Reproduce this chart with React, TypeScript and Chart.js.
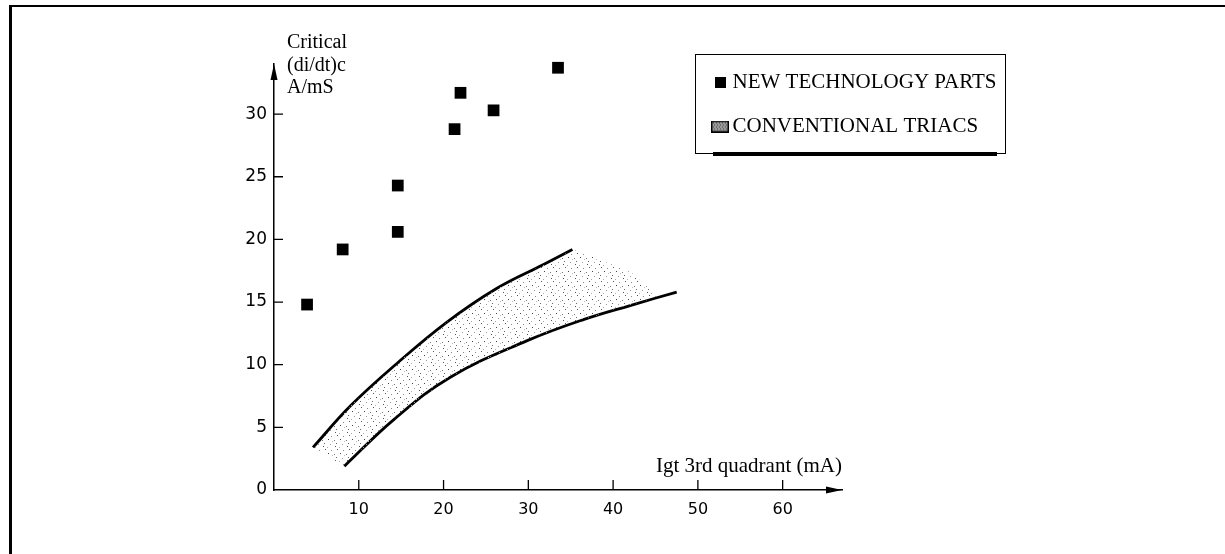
import React, { useEffect, useRef } from 'react';
import { Chart, registerables } from 'chart.js';

Chart.register(...registerables);

// ---- data ----
const seriesNames = ['NEW TECHNOLOGY PARTS', 'CONVENTIONAL TRIACS'];

const newTechX = [3.9, 8.1, 14.6, 14.6, 21.3, 22.0, 25.9, 33.5];
const newTechY = [14.8, 19.2, 20.6, 24.3, 28.8, 31.7, 30.3, 33.7];

// upper bound of the conventional-triac band
const upperX = [4.6, 9.0, 14.5, 20.4, 26.3, 31.8, 35.2];
const upperY = [3.4, 6.7, 10.1, 13.4, 16.1, 18.0, 19.2];

// lower bound of the conventional-triac band
const lowerX = [8.3, 14.1, 20.8, 29.8, 36.5, 42.4, 47.5];
const lowerY = [1.9, 5.6, 9.0, 11.9, 13.6, 14.8, 15.8];

// right-hand (unstroked) edge of the shaded band
const bandEdgeX = [38.4, 42.3, 45.3];
const bandEdgeY = [18.4, 17.3, 15.4];

const xTickValues = [10, 20, 30, 40, 50, 60];
const yTickValues = [0, 5, 10, 15, 20, 25, 30];

const yTitleLines = ['Critical', '(di/dt)c', 'A/mS'];
const xTitle = 'Igt 3rd quadrant (mA)';

const X_MAX = 67;
const Y_MAX = 34;

// ---- helpers ----
const pts = (xs: number[], ys: number[]) => xs.map((x, i) => ({ x, y: ys[i] }));

const STIPPLE_DOTS: [number, number, string][] = [
  [1, 1, '#555'], [7, 2, '#888'], [4, 5, '#444'], [10, 6, '#777'],
  [0, 9, '#666'], [6, 10, '#999'], [11, 12, '#555'], [3, 13, '#aaa'],
  [8, 7, '#bbb'],
];

function makeStipple(): CanvasPattern | string {
  const c = document.createElement('canvas');
  c.width = 12;
  c.height = 14;
  const g = c.getContext('2d');
  if (!g) return '#eeeeee';
  for (const [x, y, col] of STIPPLE_DOTS) {
    g.fillStyle = col;
    g.fillRect(x, y, 1, 1);
  }
  const p = g.createPattern(c, 'repeat');
  return p || '#eeeeee';
}

function makeSquareIcon(): HTMLCanvasElement {
  const c = document.createElement('canvas');
  c.width = 11;
  c.height = 11;
  const g = c.getContext('2d')!;
  g.fillStyle = '#000';
  g.fillRect(0, 0, 11, 11);
  return c;
}

function makeBandIcon(): HTMLCanvasElement {
  const c = document.createElement('canvas');
  c.width = 18;
  c.height = 12;
  const g = c.getContext('2d')!;
  g.fillStyle = '#9a9a9a';
  g.fillRect(1, 1, 16, 10);
  g.fillStyle = '#444';
  for (let y = 2; y < 10; y += 2) {
    for (let x = 2 + (y % 4 === 0 ? 1 : 0); x < 16; x += 3) g.fillRect(x, y, 1, 1);
  }
  g.strokeStyle = '#000';
  g.lineWidth = 1.5;
  g.strokeRect(0.75, 0.75, 16.5, 10.5);
  return c;
}

const decorPlugin = {
  id: 'decor',
  afterLayout(chart: any) {
    const lg = chart.legend;
    if (!lg) return;
    lg.left = 695;
    lg.top = 49;
    lg.right = 1010;
    lg.bottom = 200;
    lg.width = lg.right - lg.left;
    lg.height = lg.bottom - lg.top;
  },
  afterDraw(chart: any) {
    const ctx: CanvasRenderingContext2D = chart.ctx;
    const xs = chart.scales.x;
    const ys = chart.scales.y;
    const { left, right, top, bottom } = chart.chartArea;
    ctx.save();
    ctx.strokeStyle = '#000';
    ctx.fillStyle = '#000';
    ctx.lineWidth = 1.3;
    // tick marks (inside the plot)
    ctx.beginPath();
    for (const v of xTickValues) {
      const px = xs.getPixelForValue(v);
      ctx.moveTo(px, bottom);
      ctx.lineTo(px, bottom - 10);
    }
    for (const v of yTickValues) {
      if (v === 0) continue;
      const py = ys.getPixelForValue(v);
      ctx.moveTo(left, py);
      ctx.lineTo(left + 9, py);
    }
    ctx.stroke();
    // arrow heads
    ctx.beginPath();
    ctx.moveTo(right, bottom);
    ctx.lineTo(right - 16, bottom - 3.5);
    ctx.lineTo(right - 16, bottom + 3.5);
    ctx.closePath();
    ctx.fill();
    ctx.beginPath();
    ctx.moveTo(left, top);
    ctx.lineTo(left - 3.5, top + 16);
    ctx.lineTo(left + 3.5, top + 16);
    ctx.closePath();
    ctx.fill();
    // axis titles
    ctx.font = '20px "Liberation Serif", "Times New Roman", serif';
    ctx.textAlign = 'left';
    ctx.textBaseline = 'middle';
    yTitleLines.forEach((t, i) => ctx.fillText(t, left + 13, 43 + i * 22.5));
    ctx.font = '21px "Liberation Serif", "Times New Roman", serif';
    ctx.textAlign = 'right';
    ctx.fillText(xTitle, right, bottom - 24);
    // legend frame
    const lg = chart.legend;
    if (lg) {
      const bx = lg.left;
      const by = lg.top + 5;
      ctx.lineWidth = 1;
      ctx.strokeRect(bx + 0.5, by + 0.5, 310, 99);
      ctx.fillRect(bx + 18, by + 98, 284, 4);
    }
    ctx.restore();
  },
};

export default function App() {
  const ref = useRef<HTMLCanvasElement>(null);

  useEffect(() => {
    const canvas = ref.current;
    if (!canvas) return;
    const stipple = makeStipple();
    const icons = [makeSquareIcon(), makeBandIcon()];

    const lowerInside = pts(lowerX, lowerY).filter((p) => p.x <= bandEdgeX[bandEdgeX.length - 1]);
    const bandPolygon = [
      ...pts(upperX, upperY),
      ...pts(bandEdgeX, bandEdgeY),
      ...lowerInside.slice().reverse(),
    ];

    const chart = new Chart(canvas, {
      type: 'line',
      data: {
        datasets: [
          {
            label: seriesNames[0],
            data: pts(newTechX, newTechY),
            showLine: false,
            pointStyle: 'rect',
            pointRadius: 8.3,
            pointBackgroundColor: '#000',
            pointBorderWidth: 0,
            borderColor: '#000',
            backgroundColor: '#000',
            clip: false,
          } as any,
          {
            label: seriesNames[1],
            data: bandPolygon,
            showLine: true,
            borderWidth: 0,
            borderColor: 'rgba(0,0,0,0)',
            backgroundColor: stipple as any,
            fill: 'shape',
            pointRadius: 0,
            tension: 0,
          } as any,
          {
            label: 'upper',
            data: pts(upperX, upperY),
            borderColor: '#000',
            borderWidth: 2.8,
            pointRadius: 0,
            fill: false,
            tension: 0.4,
          } as any,
          {
            label: 'lower',
            data: pts(lowerX, lowerY),
            borderColor: '#000',
            borderWidth: 2.8,
            pointRadius: 0,
            fill: false,
            tension: 0.4,
          } as any,
        ],
      },
      options: {
        responsive: false,
        animation: false,
        events: [],
        layout: { padding: { left: 214, right: 383, top: 64, bottom: 14 } },
        scales: {
          x: {
            type: 'linear',
            min: 0,
            max: X_MAX,
            afterFit: (s: any) => { s.height = 50; },
            afterBuildTicks: (s: any) => { s.ticks = xTickValues.map((v) => ({ value: v })); },
            grid: { display: false, drawTicks: false },
            border: { display: true, color: '#000', width: 1.5 },
            ticks: {
              padding: 10,
              color: '#000',
              maxRotation: 0,
              autoSkip: false,
              font: { family: '"DejaVu Sans", sans-serif', size: 16 },
            },
          },
          y: {
            type: 'linear',
            min: 0,
            max: Y_MAX,
            afterFit: (s: any) => { s.width = 60; },
            afterBuildTicks: (s: any) => { s.ticks = yTickValues.map((v) => ({ value: v })); },
            grid: { display: false, drawTicks: false },
            border: { display: true, color: '#000', width: 1.5 },
            ticks: {
              padding: 7,
              color: '#000',
              autoSkip: false,
              font: { family: '"DejaVu Sans", sans-serif', size: 17 },
            },
          },
        } as any,
        plugins: {
          tooltip: { enabled: false },
          legend: {
            position: 'chartArea' as any,
            align: 'start',
            labels: {
              usePointStyle: true,
              pointStyleWidth: 4,
              padding: 23,
              color: '#000',
              font: { family: '"Liberation Serif", "Times New Roman", serif', size: 21 },
              generateLabels: (c: any) =>
                c.data.datasets.slice(0, 2).map((ds: any, i: number) => ({
                  text: ds.label,
                  pointStyle: icons[i],
                  fillStyle: '#000',
                  strokeStyle: '#000',
                  lineWidth: 0,
                  hidden: false,
                  datasetIndex: i,
                  fontColor: '#000',
                })),
            },
          },
        },
      },
      plugins: [decorPlugin],
    });

    return () => chart.destroy();
  }, []);

  return (
    <div style={{ position: 'fixed', left: 0, top: 0, width: 1225, height: 554, background: '#fff', overflow: 'hidden' }}>
      <div style={{ position: 'absolute', left: 9, top: 5, width: 1216, height: 2, background: '#000' }} />
      <div style={{ position: 'absolute', left: 9, top: 5, width: 3, height: 549, background: '#000' }} />
      <canvas ref={ref} width={1225} height={554} style={{ position: 'absolute', left: 0, top: 0 }} />
    </div>
  );
}
